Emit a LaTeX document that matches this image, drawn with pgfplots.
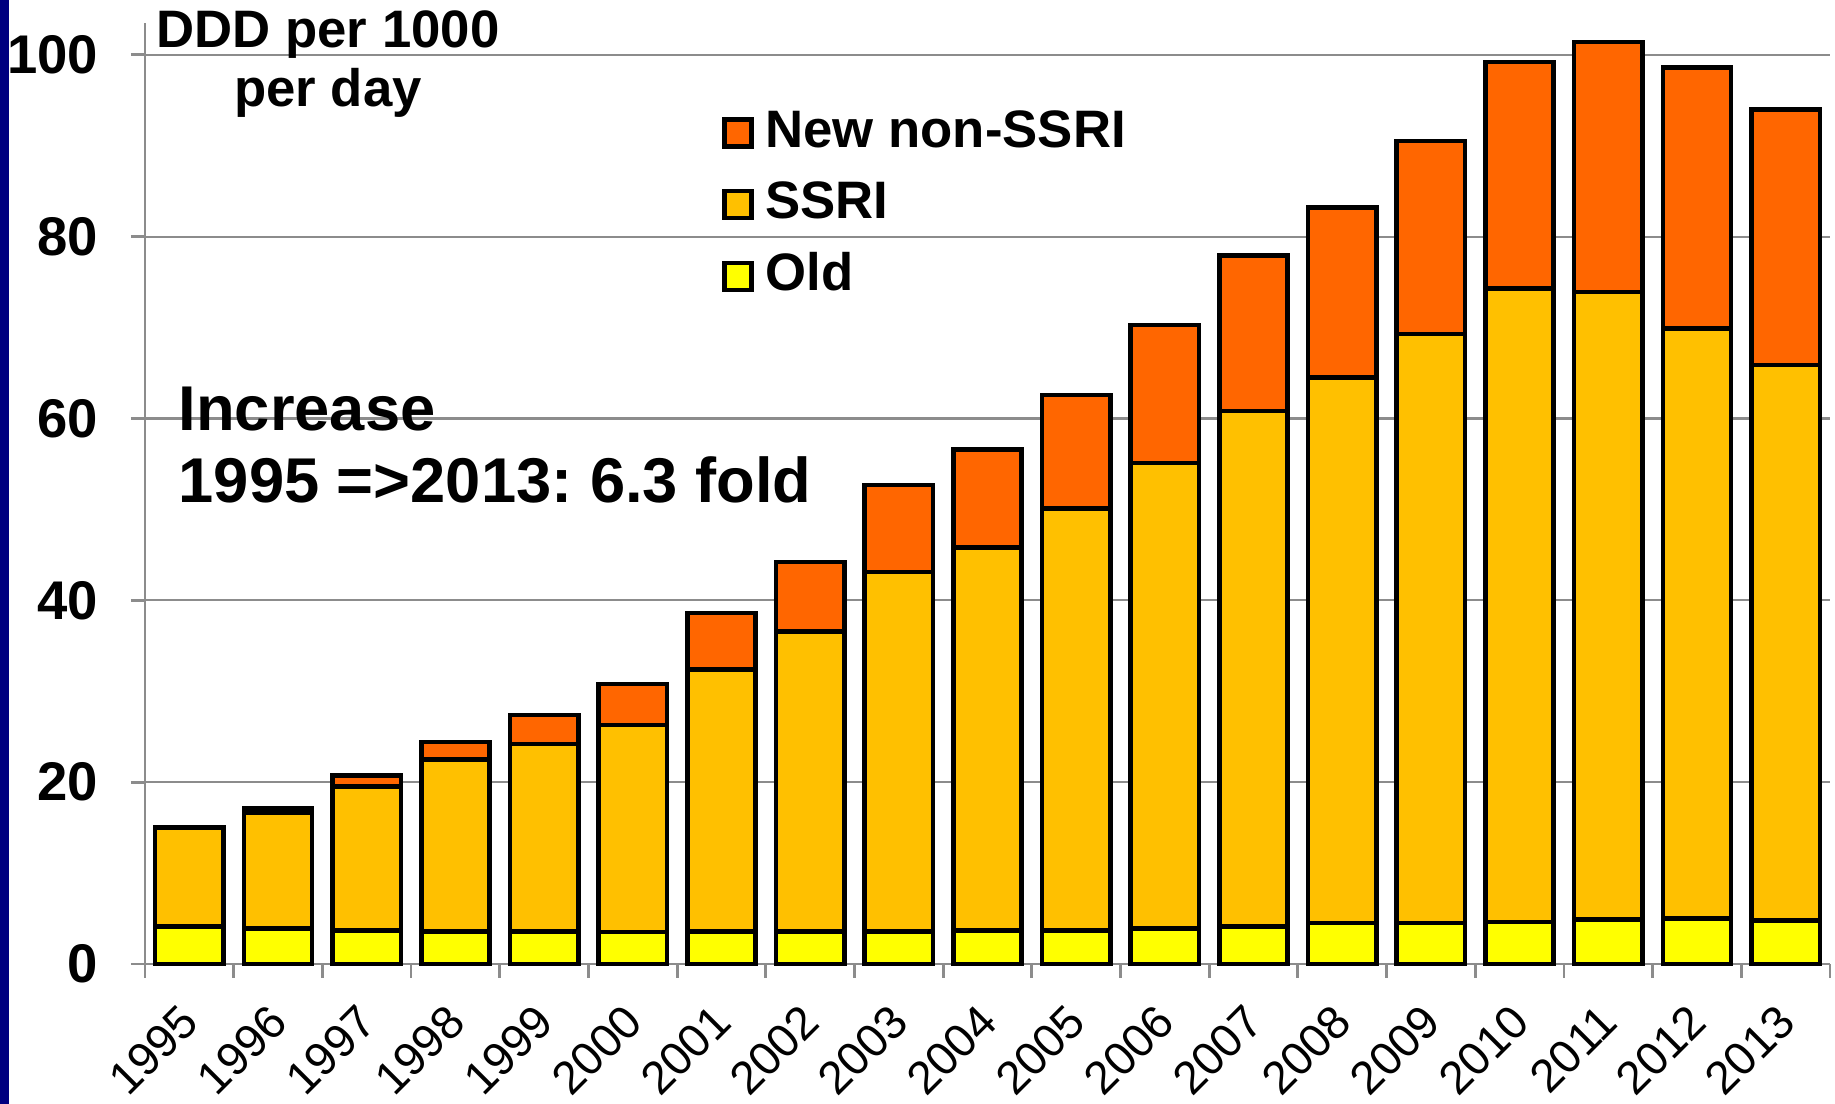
\documentclass[border=0pt]{standalone}
\usepackage{fontspec}
\setmainfont{Liberation Sans}
\usepackage{pgfplots}
\usepackage{pgfplotstable}
\pgfplotsset{compat=1.18}
\definecolor{oldc}{HTML}{FFFF00}
\definecolor{ssric}{HTML}{FFC000}
\definecolor{newc}{HTML}{FF6600}
\definecolor{gridc}{HTML}{8C8C8C}
\definecolor{slide}{HTML}{000080}

% DDD per 1000 per day
\pgfplotstableread{
x  old  ssri  new
0  4.1  10.9  0.0
1  3.9  12.7  0.5
2  3.7  15.8  1.2
3  3.6  18.9  1.9
4  3.6  20.6  3.2
5  3.5  22.8  4.5
6  3.6  28.8  6.2
7  3.6  33.0  7.6
8  3.6  39.5  9.6
9  3.7  42.1  10.8
10 3.7  46.4  12.5
11 3.9  51.2  15.2
12 4.1  56.7  17.1
13 4.5  60.0  18.7
14 4.5  64.8  21.2
15 4.6  69.7  24.9
16 4.9  69.0  27.5
17 5.0  64.9  28.7
18 4.8  61.1  28.1
}\ddd

\begin{document}
\begin{tikzpicture}
\useasboundingbox (0,0) rectangle (183.5mm,110.4mm);
\fill[slide] (0,0) rectangle (0.9mm,110.4mm);
\begin{axis}[
    at={(14.5mm,14.0mm)}, anchor=south west,
    scale only axis, width=168.5mm, height=94.1mm,
    ybar stacked, bar width=0.77,
    xmin=-0.5, xmax=18.5, ymin=0, ymax=103.5,
    clip=false,
    axis x line*=bottom, axis y line*=left,
    axis line style={gridc, line width=0.8pt},
    tick align=outside, major tick length=1.4mm,
    xtick={0,...,18},
    xticklabels={1995,1996,1997,1998,1999,2000,2001,2002,2003,2004,2005,2006,2007,2008,2009,2010,2011,2012,2013},
    major x tick style={draw=none},
    extra x ticks={-0.5,0.5,...,18.5}, extra x tick labels={},
    extra x tick style={major x tick style={draw=gridc, line width=0.8pt}},
    xticklabel style={xshift=-1.1mm, yshift=-2.3mm, rotate=45, anchor=north east,
        inner sep=0pt, font=\fontsize{13.2}{15}\selectfont},
    ytick={0,20,40,60,80,100},
    yticklabels={0,20,40,60,80,100},
    yticklabel style={font=\bfseries\fontsize{15.5}{18}\selectfont, inner sep=0pt, xshift=-3.2mm},
    y tick style={gridc, line width=0.8pt},
    ymajorgrids, grid style={gridc, line width=0.6pt},
    legend style={draw=none, fill=none, at={(0.342,0.91)}, anchor=north west,
        font=\bfseries\fontsize{15}{18}\selectfont, row sep=6.4pt, inner sep=0pt,
        nodes={inner sep=0pt, text height=11pt, text depth=3pt},
        cells={anchor=west}},
    reverse legend,
    legend image code/.code={\draw[#1, draw=black, line width=1.3pt] (0mm,-1.35mm) rectangle (2.7mm,1.35mm); \path (3.9mm,0);},
]
\addplot[fill=oldc, draw=black, line width=1.3pt] table[x=x, y=old] {\ddd};
\addplot[fill=ssric, draw=black, line width=1.3pt] table[x=x, y=ssri] {\ddd};
\addplot[fill=newc, draw=black, line width=1.3pt] table[x=x, y=new] {\ddd};
\legend{Old, SSRI, New non-SSRI}
\end{axis}
\node[anchor=north, align=center, inner sep=0pt, font=\bfseries\fontsize{15}{16.8}\selectfont]
    at (32.8mm,109.4mm) {DDD per 1000\\per day};
\node[anchor=north west, align=left, inner sep=0pt, font=\bfseries\fontsize{18}{20.7}\selectfont]
    at (17.8mm,71.8mm) {Increase\\1995 =>2013:\ 6.3 fold};
\end{tikzpicture}
\end{document}
